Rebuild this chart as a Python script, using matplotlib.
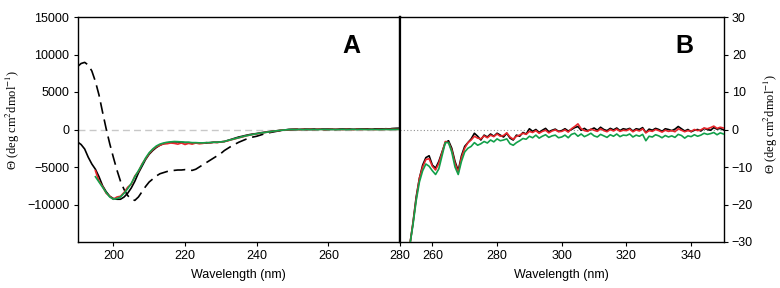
import matplotlib
matplotlib.use("Agg")
import matplotlib.pyplot as plt
import numpy as np

plt.rcParams['font.family'] = ['Liberation Sans', 'DejaVu Sans']
plt.rcParams['mathtext.fontset'] = 'stix'

# panel A, far-UV CD, 1 nm steps
wl_a = np.arange(190, 281)
wl_a_rg = np.arange(195, 281)

black_a = [-1660, -2000, -2600, -3700, -4600, -5300, -6300, -7500, -8300, -8900,
           -9200, -9300, -9300, -9000, -8500, -7800, -6900, -5800, -4900, -4000,
           -3300, -2800, -2400, -2100, -1900, -1800, -1700, -1650, -1650, -1700,
           -1750, -1750, -1800, -1800, -1800, -1800, -1800, -1750, -1700, -1700,
           -1650, -1600, -1450, -1300, -1150, -1000, -900, -780, -680, -600,
           -540, -450, -380, -320, -260, -200, -150, -100, -50, -20,
           0, 20, 10, 40, 30, 20, 40, 30, 50, 20,
           30, 40, 20, 50, 30, 40, 60, 30, 50, 40,
           60, 80, 50, 70, 90, 60, 100, 80, 120, 140, 150]

dashed_a = [8380, 8800, 8950, 8600, 7800, 6400, 4600, 2300, 100, -1900,
            -3700, -5400, -6900, -8000, -8800, -9300, -9450, -9000, -8300, -7600,
            -7000, -6600, -6200, -5900, -5750, -5600, -5500, -5450, -5400, -5400,
            -5350, -5400, -5450, -5300, -5000, -4700, -4400, -4100, -3800, -3500,
            -3200, -2800, -2500, -2200, -1950, -1700, -1500, -1300, -1150, -1000,
            -900, -750, -600, -480, -380, -290, -200, -120, -50, 0,
            10, 20, 0, 30, 10, 20, 30, 10, 40, 20,
            30, 20, 40, 30, 50, 30, 40, 60, 40, 50,
            70, 50, 60, 80, 60, 90, 80, 100, 110, 130, 140]

green_a = [-6300, -7000, -7700, -8400, -9000, -9300, -9200, -9000, -8500, -7900,
           -7200, -6300, -5500, -4700, -3800, -3100, -2600, -2200, -1950, -1800,
           -1700, -1650, -1600, -1620, -1650, -1700, -1700, -1750, -1750, -1780,
           -1780, -1750, -1750, -1700, -1700, -1650, -1600, -1450, -1350, -1200,
           -1100, -950, -850, -750, -650, -560, -480, -420, -350, -280,
           -200, -150, -100, -50, -20, 0, -10, 0, -20, 10,
           -10, 0, -20, 10, 0, -10, 10, -20, 0, 10,
           -10, 0, 10, -10, 20, 0, -10, 10, 0, -20,
           0, 10, -10, 0, 10, 0]

red_a = [-5500, -6900, -7600, -8500, -8900, -9300, -9000, -8900, -8400, -7700,
         -7300, -6200, -5600, -4600, -3900, -3200, -2700, -2300, -2100, -1900,
         -1900, -1800, -1850, -1950, -1800, -2000, -1850, -1950, -1800, -1900,
         -1850, -1750, -1800, -1700, -1750, -1650, -1600, -1500, -1350, -1250,
         -1100, -1000, -850, -750, -650, -580, -500, -420, -350, -280,
         -200, -160, -100, -60, -30, 0, 20, -20, 30, 0,
         40, -10, 20, 30, -20, 10, 40, 0, 20, -10,
         30, 10, -20, 40, 0, 20, 10, 30, -10, 20,
         0, 30, 10, 40, 20, 30]

# panel B, near-UV CD, 1 nm steps
wl_b = np.arange(253, 351)

black_b = [-31, -25, -18, -13, -9.5, -7.5, -7.0, -9.5, -10.3, -8.5,
           -6.0, -3.5, -3.0, -5.0, -8.5, -11.0, -7.0, -4.5, -3.5, -2.5,
           -1.0, -1.8, -2.8, -1.5, -2.0, -1.2, -1.8, -1.0, -1.5, -2.0,
           -1.0, -2.3, -2.8, -1.5, -1.8, -0.8, -1.2, 0.2, -0.5, 0.0,
           -0.8, -0.2, 0.3, -0.6, -0.2, 0.1, -0.5, -0.3, 0.2, -0.4,
           0.0, 0.5, 0.8, -0.2, 0.3, -0.3, 0.0, 0.4, -0.2, 0.6,
           0.0, -0.3, 0.3, -0.1, 0.4, -0.3, 0.2, 0.0, 0.3, -0.4,
           0.2, 0.0, 0.5, -0.8, 0.1, -0.2, 0.3, 0.0, -0.5, 0.2,
           0.0, -0.3, 0.1, 0.8, 0.2, -0.4, 0.0, -0.6, -0.2, 0.0,
           -0.4, 0.3, 0.0, -0.2, 0.5, 0.1, 0.3, -0.1]

red_b = [-31, -25, -18.5, -13, -10, -8, -7.8, -9.8, -10.8, -9.0,
         -6.2, -3.2, -3.5, -5.5, -9.0, -11.5, -7.5, -5.0, -3.5, -2.8,
         -1.8, -2.3, -2.5, -1.7, -2.2, -1.5, -1.9, -1.2, -1.8, -1.6,
         -0.9, -2.0, -2.6, -1.8, -1.5, -1.0, -1.3, -0.5, -0.8, -0.3,
         -1.0, -0.5, -0.2, -0.9, -0.4, -0.1, -0.6, -0.5, -0.1, -0.7,
         0.2, 0.8, 1.5, 0.2, -0.3, -0.5, 0.1, -0.2, -0.5, 0.2,
         -0.3, -0.6, 0.0, -0.4, 0.1, -0.5, -0.2, -0.3, 0.1, -0.6,
         -0.1, -0.4, 0.2, -0.9, -0.3, -0.5, 0.0, -0.3, -0.7, -0.2,
         -0.5, -0.3, -0.6, 0.2, -0.2, -0.6, -0.3, -0.5, 0.0, -0.3,
         -0.1, 0.4, 0.2, 0.5, 0.9, 0.3, 0.6, 0.4]

green_b = [-31, -25.5, -19, -14, -11, -9.2, -9.8, -11.0, -12.0, -10.5,
           -7.0, -3.5, -3.5, -6.0, -10.0, -12.0, -8.5, -6.0, -5.0, -4.5,
           -3.5, -4.2, -3.8, -3.2, -3.6, -2.8, -3.3, -2.5, -3.0, -2.8,
           -2.5, -3.8, -4.2, -3.5, -3.0, -2.4, -2.6, -1.8, -2.2, -1.5,
           -2.3, -1.8, -1.4, -2.1, -1.7, -1.5, -2.2, -2.0, -1.5, -2.2,
           -1.3, -1.0, -1.8, -1.2, -1.9, -1.5, -1.0, -1.7, -2.0, -1.3,
           -1.7, -2.1, -1.4, -1.8, -1.2, -1.9, -1.5, -1.6, -1.2, -2.0,
           -1.5, -1.8, -1.3, -3.0, -1.8, -2.0, -1.4, -1.7, -2.2, -1.6,
           -2.0, -1.7, -2.1, -1.3, -1.6, -2.3, -1.7, -1.9, -1.4, -1.8,
           -1.5, -1.0, -1.3, -1.1, -0.8, -1.4, -0.9, -1.2]

RED = '#e8262b'
GREEN = '#12a04a'
ylab = 'Θ (deg cm$^{2}$dmol$^{-1}$)'

fig = plt.figure(figsize=(7.8, 2.88), dpi=100)
axA = fig.add_axes([77.5/780, 1-242/288, 322.5/780, 225/288])
axB = fig.add_axes([400/780, 1-242/288, 323.5/780, 225/288])

# panel A
axA.axhline(0, color='#c8c8c8', lw=1.0, ls=(0, (5, 3)), zorder=1)
axA.plot(wl_a, dashed_a, color='black', lw=1.2, ls=(0, (7, 3.5)), zorder=2)
axA.plot(wl_a, black_a, color='black', lw=1.2, zorder=3)
axA.plot(wl_a_rg, red_a, color=RED, lw=1.2, zorder=4)
axA.plot(wl_a_rg, green_a, color=GREEN, lw=1.2, zorder=5)
axA.set_xlim(190, 280)
axA.set_ylim(-15000, 15000)
axA.set_xticks([200, 220, 240, 260, 280])
axA.set_yticks([-10000, -5000, 0, 5000, 10000, 15000])
axA.set_xlabel('Wavelength (nm)', fontsize=9, labelpad=5)
axA.set_ylabel(ylab, fontsize=9, family='Liberation Serif')
axA.yaxis.set_label_coords(-0.172, 0.542)
axA.text(0.85, 0.87, 'A', transform=axA.transAxes, fontsize=18,
         fontweight='bold', ha='center', va='center')

# panel B
axB.axhline(0, color='#909090', lw=0.8, ls=(0, (1, 2)), zorder=1)
axB.plot(wl_b, black_b, color='black', lw=1.2, zorder=3)
axB.plot(wl_b, red_b, color=RED, lw=1.2, zorder=4)
axB.plot(wl_b, green_b, color=GREEN, lw=1.2, zorder=5)
axB.set_xlim(250, 350)
axB.set_ylim(-30, 30)
axB.set_xticks([260, 280, 300, 320, 340])
axB.set_yticks([-30, -20, -10, 0, 10, 20, 30])
axB.yaxis.tick_right()
axB.yaxis.set_label_position('right')
axB.set_xlabel('Wavelength (nm)', fontsize=9, labelpad=5)
axB.set_ylabel(ylab, fontsize=9, family='Liberation Serif', rotation=90)
axB.yaxis.set_label_coords(1.118, 0.527)
axB.text(0.88, 0.87, 'B', transform=axB.transAxes, fontsize=18,
         fontweight='bold', ha='center', va='center')

for ax in (axA, axB):
    ax.tick_params(labelsize=9, length=3, width=0.8, direction='out', pad=3)
    for s in ax.spines.values():
        s.set_linewidth(1.0)
axA.spines['right'].set_linewidth(1.6)
axB.spines['left'].set_linewidth(1.6)

fig.savefig('out.png', dpi=100)
